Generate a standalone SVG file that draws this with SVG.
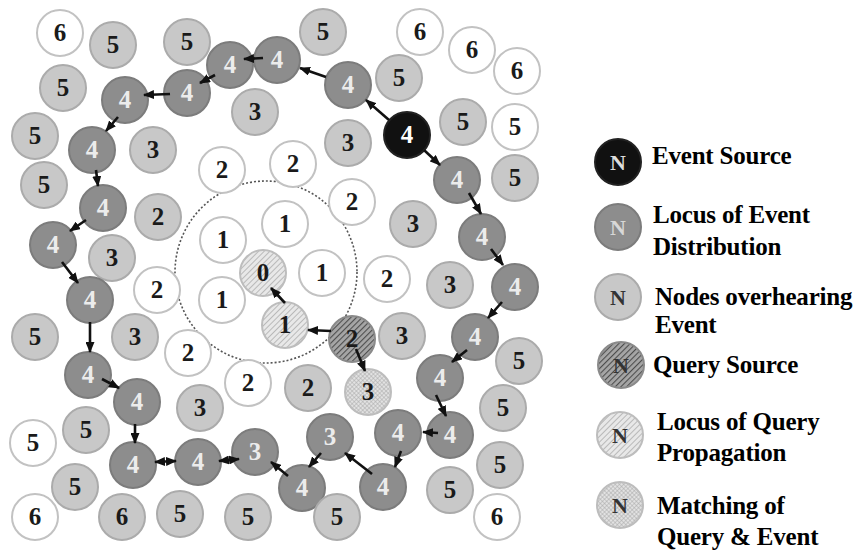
<svg xmlns="http://www.w3.org/2000/svg" width="862" height="554" viewBox="0 0 862 554">
<style>
circle{stroke-width:2}
.w{fill:#fff;stroke:#c2c2c2}
.l{fill:#c8c8c8;stroke:#ababab}
.d{fill:#8d8d8d;stroke:#7c7c7c}
.b{fill:#111;stroke:#222}
.qs{fill:url(#hd);stroke:#8a8a8a}
.ql{fill:url(#hl);stroke:#bdbdbd}
.m{fill:url(#dt);stroke:#bdbdbd}
text{font-family:"Liberation Serif","Times New Roman",serif;font-weight:bold;font-size:25px;text-anchor:middle;fill:#1a1a1a}
text.tw{fill:#ececec}
.lg text{text-anchor:start;font-size:25px;fill:#000;letter-spacing:-0.2px}
.lg text.n{text-anchor:middle;font-size:22px;letter-spacing:0}
.c line{stroke:#111;stroke-width:2.6;marker-end:url(#ah)}
.c line.bi{marker-start:url(#ahs)}
.ring{fill:none;stroke:#555;stroke-width:1.6;stroke-dasharray:2 2}
</style>
<defs>
<pattern id="hd" width="4" height="4" patternUnits="userSpaceOnUse" patternTransform="rotate(45)">
<rect width="4" height="4" fill="#a6a6a6"/><line x1="0" y1="0" x2="0" y2="4" stroke="#4d4d4d" stroke-width="2.2"/>
</pattern>
<pattern id="hl" width="4" height="4" patternUnits="userSpaceOnUse" patternTransform="rotate(45)">
<rect width="4" height="4" fill="#e8e8e8"/><line x1="0" y1="0" x2="0" y2="4" stroke="#adadad" stroke-width="1.6"/>
</pattern>
<pattern id="dt" width="3" height="3" patternUnits="userSpaceOnUse" patternTransform="rotate(45)">
<rect width="3" height="3" fill="#e2e2e2"/><path d="M0,0H3M0,0V3" stroke="#a8a8a8" stroke-width="1"/>
</pattern>
<marker id="ah" markerUnits="userSpaceOnUse" markerWidth="11" markerHeight="9" refX="10" refY="4.5" orient="auto">
<path d="M0,0L11,4.5L0,9z" fill="#111"/>
</marker>
<marker id="ahs" markerUnits="userSpaceOnUse" markerWidth="11" markerHeight="9" refX="10" refY="4.5" orient="auto-start-reverse">
<path d="M0,0L11,4.5L0,9z" fill="#111"/>
</marker>
</defs>
<rect width="862" height="554" fill="#fff"/>
<circle class="ring" cx="266" cy="272" r="91"/>
<g id="nodes">
<g id="n1"><circle class="w" cx="60" cy="33" r="23"/><text x="60" y="41">6</text></g>
<g id="n2"><circle class="l" cx="113" cy="45" r="23"/><text x="113" y="53">5</text></g>
<g id="n3"><circle class="l" cx="187" cy="42" r="23"/><text x="187" y="50">5</text></g>
<g id="n4"><circle class="d" cx="230" cy="65" r="23"/><text class="tw" x="230" y="73">4</text></g>
<g id="n5"><circle class="d" cx="277" cy="60" r="23"/><text class="tw" x="277" y="68">4</text></g>
<g id="n6"><circle class="l" cx="323" cy="32" r="23"/><text x="323" y="40">5</text></g>
<g id="n7"><circle class="w" cx="420" cy="32" r="23"/><text x="420" y="40">6</text></g>
<g id="n8"><circle class="w" cx="472" cy="50" r="23"/><text x="472" y="58">6</text></g>
<g id="n9"><circle class="w" cx="517" cy="71" r="23"/><text x="517" y="79">6</text></g>
<g id="n10"><circle class="d" cx="348" cy="85" r="23"/><text class="tw" x="348" y="93">4</text></g>
<g id="n11"><circle class="l" cx="399" cy="78" r="23"/><text x="399" y="86">5</text></g>
<g id="n12"><circle class="b" cx="407" cy="135" r="23"/><text class="tw" x="407" y="143" style="fill:#fff">4</text></g>
<g id="n13"><circle class="l" cx="463" cy="122" r="23"/><text x="463" y="130">5</text></g>
<g id="n14"><circle class="w" cx="515" cy="127" r="23"/><text x="515" y="135">5</text></g>
<g id="n15"><circle class="l" cx="348" cy="143" r="23"/><text x="348" y="151">3</text></g>
<g id="n16"><circle class="w" cx="293" cy="164" r="23"/><text x="293" y="172">2</text></g>
<g id="n17"><circle class="d" cx="457" cy="180" r="23"/><text class="tw" x="457" y="188">4</text></g>
<g id="n18"><circle class="l" cx="515" cy="178" r="23"/><text x="515" y="186">5</text></g>
<g id="n19"><circle class="l" cx="63" cy="88" r="23"/><text x="63" y="96">5</text></g>
<g id="n20"><circle class="d" cx="125" cy="100" r="23"/><text class="tw" x="125" y="108">4</text></g>
<g id="n21"><circle class="d" cx="187" cy="93" r="23"/><text class="tw" x="187" y="101">4</text></g>
<g id="n22"><circle class="l" cx="255" cy="112" r="23"/><text x="255" y="120">3</text></g>
<g id="n23"><circle class="l" cx="35" cy="136" r="23"/><text x="35" y="144">5</text></g>
<g id="n24"><circle class="d" cx="92" cy="150" r="23"/><text class="tw" x="92" y="158">4</text></g>
<g id="n25"><circle class="l" cx="153" cy="150" r="23"/><text x="153" y="158">3</text></g>
<g id="n26"><circle class="w" cx="222" cy="170" r="23"/><text x="222" y="178">2</text></g>
<g id="n27"><circle class="l" cx="44" cy="185" r="23"/><text x="44" y="193">5</text></g>
<g id="n28"><circle class="d" cx="103" cy="208" r="23"/><text class="tw" x="103" y="216">4</text></g>
<g id="n29"><circle class="l" cx="158" cy="217" r="23"/><text x="158" y="225">2</text></g>
<g id="n30"><circle class="w" cx="352" cy="202" r="23"/><text x="352" y="210">2</text></g>
<g id="n31"><circle class="w" cx="223" cy="240" r="23"/><text x="223" y="248">1</text></g>
<g id="n32"><circle class="w" cx="285" cy="224" r="23"/><text x="285" y="232">1</text></g>
<g id="n33"><circle class="l" cx="413" cy="224" r="23"/><text x="413" y="232">3</text></g>
<g id="n34"><circle class="d" cx="482" cy="237" r="23"/><text class="tw" x="482" y="245">4</text></g>
<g id="n35"><circle class="d" cx="53" cy="245" r="23"/><text class="tw" x="53" y="253">4</text></g>
<g id="n36"><circle class="l" cx="112" cy="258" r="23"/><text x="112" y="266">3</text></g>
<g id="n37"><circle class="w" cx="157" cy="290" r="23"/><text x="157" y="298">2</text></g>
<g id="n38"><circle class="w" cx="222" cy="300" r="23"/><text x="222" y="308">1</text></g>
<g id="n39"><circle class="ql" cx="263" cy="273" r="23"/><text x="263" y="281">0</text></g>
<g id="n40"><circle class="w" cx="322" cy="273" r="23"/><text x="322" y="281">1</text></g>
<g id="n41"><circle class="w" cx="387" cy="279" r="23"/><text x="387" y="287">2</text></g>
<g id="n42"><circle class="l" cx="450" cy="285" r="23"/><text x="450" y="293">3</text></g>
<g id="n43"><circle class="d" cx="515" cy="287" r="23"/><text class="tw" x="515" y="295">4</text></g>
<g id="n44"><circle class="d" cx="90" cy="300" r="23"/><text class="tw" x="90" y="308">4</text></g>
<g id="n45"><circle class="l" cx="35" cy="337" r="23"/><text x="35" y="345">5</text></g>
<g id="n46"><circle class="l" cx="135" cy="337" r="23"/><text x="135" y="345">3</text></g>
<g id="n47"><circle class="w" cx="188" cy="353" r="23"/><text x="188" y="361">2</text></g>
<g id="n48"><circle class="ql" cx="285" cy="325" r="23"/><text x="285" y="333">1</text></g>
<g id="n49"><circle class="qs" cx="352" cy="339" r="23"/><text x="352" y="347">2</text></g>
<g id="n50"><circle class="l" cx="402" cy="336" r="23"/><text x="402" y="344">3</text></g>
<g id="n51"><circle class="d" cx="475" cy="337" r="23"/><text class="tw" x="475" y="345">4</text></g>
<g id="n52"><circle class="l" cx="519" cy="361" r="23"/><text x="519" y="369">5</text></g>
<g id="n53"><circle class="d" cx="88" cy="375" r="23"/><text class="tw" x="88" y="383">4</text></g>
<g id="n54"><circle class="w" cx="248" cy="383" r="23"/><text x="248" y="391">2</text></g>
<g id="n55"><circle class="l" cx="308" cy="388" r="23"/><text x="308" y="396">2</text></g>
<g id="n56"><circle class="m" cx="368" cy="392" r="23"/><text x="368" y="400">3</text></g>
<g id="n57"><circle class="d" cx="440" cy="378" r="23"/><text class="tw" x="440" y="386">4</text></g>
<g id="n58"><circle class="d" cx="137" cy="402" r="23"/><text class="tw" x="137" y="410">4</text></g>
<g id="n59"><circle class="l" cx="200" cy="408" r="23"/><text x="200" y="416">3</text></g>
<g id="n60"><circle class="l" cx="503" cy="408" r="23"/><text x="503" y="416">5</text></g>
<g id="n61"><circle class="l" cx="86" cy="430" r="23"/><text x="86" y="438">5</text></g>
<g id="n62"><circle class="w" cx="33" cy="443" r="23"/><text x="33" y="451">5</text></g>
<g id="n63"><circle class="d" cx="450" cy="435" r="23"/><text class="tw" x="450" y="443">4</text></g>
<g id="n64"><circle class="d" cx="398" cy="433" r="23"/><text class="tw" x="398" y="441">4</text></g>
<g id="n65"><circle class="d" cx="330" cy="437" r="23"/><text class="tw" x="330" y="445">3</text></g>
<g id="n66"><circle class="d" cx="133" cy="465" r="23"/><text class="tw" x="133" y="473">4</text></g>
<g id="n67"><circle class="d" cx="198" cy="462" r="23"/><text class="tw" x="198" y="470">4</text></g>
<g id="n68"><circle class="d" cx="255" cy="452" r="23"/><text class="tw" x="255" y="460">3</text></g>
<g id="n69"><circle class="l" cx="500" cy="465" r="23"/><text x="500" y="473">5</text></g>
<g id="n70"><circle class="l" cx="75" cy="487" r="23"/><text x="75" y="495">5</text></g>
<g id="n71"><circle class="d" cx="302" cy="488" r="23"/><text class="tw" x="302" y="496">4</text></g>
<g id="n72"><circle class="d" cx="383" cy="487" r="23"/><text class="tw" x="383" y="495">4</text></g>
<g id="n73"><circle class="l" cx="450" cy="490" r="23"/><text x="450" y="498">5</text></g>
<g id="n74"><circle class="w" cx="35" cy="517" r="23"/><text x="35" y="525">6</text></g>
<g id="n75"><circle class="l" cx="122" cy="517" r="23"/><text x="122" y="525">6</text></g>
<g id="n76"><circle class="l" cx="180" cy="514" r="23"/><text x="180" y="522">5</text></g>
<g id="n77"><circle class="l" cx="248" cy="517" r="23"/><text x="248" y="525">5</text></g>
<g id="n78"><circle class="l" cx="337" cy="517" r="23"/><text x="337" y="525">5</text></g>
<g id="n79"><circle class="w" cx="497" cy="517" r="23"/><text x="497" y="525">6</text></g>
</g>
<g id="connectors" class="c">
<line x1="389" y1="120" x2="366" y2="100"/>
<line x1="424" y1="150" x2="440" y2="165"/>
<line x1="326" y1="77" x2="300" y2="68"/>
<line x1="263" y1="58" x2="244" y2="59"/>
<line x1="215" y1="75" x2="200" y2="83"/>
<line x1="170" y1="94" x2="144" y2="95"/>
<line x1="118" y1="117" x2="106" y2="131"/>
<line x1="96" y1="170" x2="98" y2="186"/>
<line x1="86" y1="220" x2="70" y2="231"/>
<line x1="62" y1="262" x2="78" y2="283"/>
<line x1="90" y1="322" x2="90" y2="352"/>
<line x1="102" y1="379" x2="119" y2="388"/>
<line x1="135" y1="424" x2="135" y2="443"/>
<line class="bi" x1="176" y1="461" x2="155" y2="462"/>
<line class="bi" x1="239" y1="459" x2="219" y2="461"/>
<line x1="288" y1="476" x2="271" y2="462"/>
<line x1="321" y1="453" x2="309" y2="467"/>
<line x1="372" y1="474" x2="345" y2="453"/>
<line x1="401" y1="451" x2="395" y2="467"/>
<line x1="438" y1="433" x2="423" y2="432"/>
<line x1="436" y1="395" x2="446" y2="416"/>
<line x1="467" y1="350" x2="452" y2="362"/>
<line x1="502" y1="302" x2="488" y2="318"/>
<line x1="491" y1="249" x2="503" y2="265"/>
<line x1="469" y1="193" x2="481" y2="214"/>
<line x1="331" y1="331" x2="308" y2="330"/>
<line x1="285" y1="303" x2="271" y2="288"/>
<line x1="356" y1="349" x2="365" y2="371"/>
</g>
<g id="legend" class="lg">
<g id="lg1"><circle class="b" cx="618" cy="162" r="23"/><text class="n" x="618" y="170" style="fill:#ddd">N</text><text x="652" y="164">Event Source</text></g>
<g id="lg2"><circle class="d" cx="618" cy="227" r="23"/><text class="n" x="618" y="235" style="fill:#d8d8d8">N</text><text x="653" y="223">Locus of  Event</text><text x="653" y="255">Distribution</text></g>
<g id="lg3"><circle class="l" cx="618" cy="297" r="23"/><text class="n" x="618" y="305" style="fill:#333">N</text><text x="655" y="305">Nodes overhearing</text><text x="655" y="333">Event</text></g>
<g id="lg4"><circle class="qs" cx="621" cy="365" r="23"/><text class="n" x="621" y="373" style="fill:#333">N</text><text x="653" y="373">Query Source</text></g>
<g id="lg5"><circle class="ql" cx="620" cy="435" r="23"/><text class="n" x="620" y="443" style="fill:#333">N</text><text x="657" y="430">Locus of  Query</text><text x="657" y="461">Propagation</text></g>
<g id="lg6"><circle class="m" cx="620" cy="505" r="23"/><text class="n" x="620" y="513" style="fill:#333">N</text><text x="657" y="514">Matching of</text><text x="657" y="545">Query &amp; Event</text></g>
</g>
</svg>
